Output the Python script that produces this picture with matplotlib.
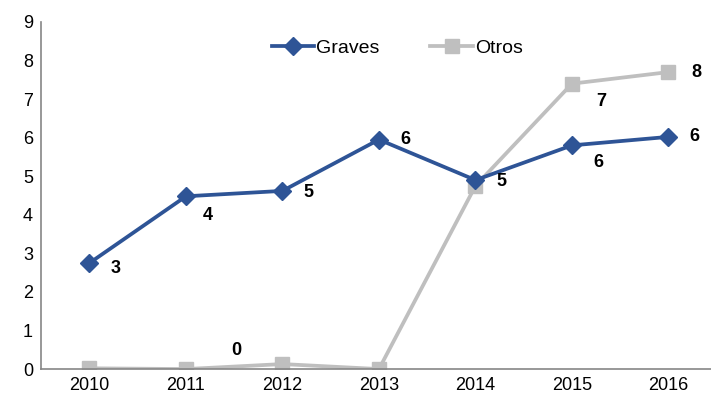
import matplotlib.pyplot as plt

plt.rcParams['font.family'] = ['Liberation Sans', 'DejaVu Sans']

years = ['2010', '2011', '2012', '2013', '2014', '2015', '2016']
graves = [2.75, 4.48, 4.62, 5.95, 4.9, 5.8, 6.02]
otros = [0.02, 0.0, 0.13, 0.0, 4.75, 7.4, 7.7]

# which points get a value label, and where (offset in points)
graves_offsets = [(19, -4), (16, -14), (19, -1), (19, 0), (19, -1), (19, -12), (19, 0)]
otros_labels = {2: (-33, 10), 5: (21, -13), 6: (20, 0)}

BLUE = '#2E5496'
GRAY = '#BFBFBF'

fig, ax = plt.subplots(figsize=(7.11, 3.99), dpi=100)
fig.subplots_adjust(left=0.058, right=1.008, top=0.945, bottom=0.075)

x = range(len(years))
ax.plot(x, graves, color=BLUE, lw=2.7, marker='D', markersize=9, label='Graves', zorder=3)
ax.plot(x, otros, color=GRAY, lw=2.7, marker='s', markersize=10, label='Otros', zorder=2)

for i, v in enumerate(graves):
    ax.annotate(f'{v:.0f}', (i, v), xytext=graves_offsets[i], textcoords='offset points',
                ha='center', va='center', fontsize=13, fontweight='bold')
for i, off in otros_labels.items():
    ax.annotate(f'{otros[i]:.0f}', (i, otros[i]), xytext=off, textcoords='offset points',
                ha='center', va='center', fontsize=13, fontweight='bold')

ax.set_xlim(-0.5, 6.5)
ax.set_ylim(0, 9)
ax.set_yticks(range(10))
ax.set_xticks(list(x))
ax.set_xticklabels(years)
ax.tick_params(length=0, labelsize=13, pad=6)

for s in ['top', 'right']:
    ax.spines[s].set_visible(False)
for s in ['left', 'bottom']:
    ax.spines[s].set_color('#868686')
    ax.spines[s].set_linewidth(1.2)

ax.legend(loc='upper center', bbox_to_anchor=(0.527, 1.0), ncol=2, frameon=False,
          fontsize=14, handlelength=2.2, handletextpad=0.1, columnspacing=2.6)

plt.savefig('out.png')
